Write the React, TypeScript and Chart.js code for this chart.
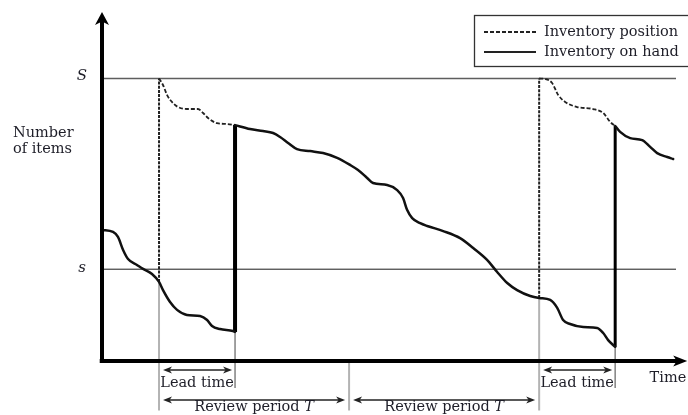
import React, { useEffect, useRef } from "react";
import { Chart, registerables } from "chart.js";

Chart.register(...registerables);

// ---------------- data ----------------
const reviewTimes = [3, 13, 23];
const arrivalTimes = [7, 27];
const levelS = 100; // order-up-to level S
const levelSmall = 32.5; // reorder point s

// inventory on hand, piecewise between order arrivals: [time, items]
const onHand1: [number, number][] = [
  [0, 46.4], [0.58, 45.7], [0.84, 43.9], [1.11, 39.3], [1.37, 36.1], [1.84, 34.0],
  [2.16, 32.6], [2.63, 30.8], [3, 28.0], [3.21, 25.1], [3.58, 20.9], [3.95, 18.1],
  [4.47, 16.3], [5.16, 15.9], [5.53, 14.5], [5.79, 12.4], [6.21, 11.3], [6.89, 10.6], [7, 10.3],
];
const onHand2: [number, number][] = [
  [7, 83.5], [7.79, 82.1], [8.47, 81.4], [9.0, 80.7], [9.37, 79.3], [9.79, 77.2],
  [10.26, 75.0], [10.95, 74.3], [11.63, 73.6], [12.37, 71.9], [13.05, 69.4], [13.47, 67.6],
  [13.95, 64.8], [14.26, 63.0], [15.0, 62.3], [15.53, 60.5], [15.84, 57.7], [16.05, 53.5],
  [16.32, 50.6], [16.74, 48.8], [17.11, 47.8], [17.95, 46.0], [18.84, 43.5], [19.53, 40.0],
  [20.26, 35.8], [20.79, 31.5], [21.32, 27.6], [21.84, 25.1], [22.53, 23.0], [23, 22.3],
  [23.58, 21.6], [23.95, 18.8], [24.26, 14.5], [24.63, 13.1], [25.32, 12.0], [26.05, 11.7],
  [26.37, 9.9], [26.63, 7.4], [27, 5.0],
];
const onHand3: [number, number][] = [
  [27, 83.2], [27.26, 81.1], [27.79, 78.9], [28.42, 78.2], [28.84, 75.8], [29.21, 73.6],
  [29.74, 72.2], [30.05, 71.5],
];
// inventory position while an order is outstanding
const position1: [number, number][] = [
  [3, 100], [3.21, 97.7], [3.42, 94.2], [3.68, 91.7], [4.0, 89.9], [4.47, 89.2],
  [5.05, 89.2], [5.32, 87.8], [5.58, 86.0], [6.05, 84.2], [6.58, 83.9], [7, 83.5],
];
const position2: [number, number][] = [
  [23, 100], [23.32, 99.8], [23.68, 98.4], [24.0, 94.2], [24.37, 91.7], [25.0, 89.9],
  [25.84, 89.2], [26.37, 87.8], [26.74, 84.6], [27, 83.2],
];

const legendLabels = ["Inventory position", "Inventory on hand"];
const levelLabels = ["S", "s"];
const yTitleLines = ["Number", "of items"];
const xTitle = "Time";
const leadLabel = "Lead time";
const reviewLabel = "Review period ";
const reviewSymbol = "T";

// ---------------- layout / style ----------------
const X_MAX = 30.2;
const Y_MAX = 120;
const X_AXIS_END = 30.5;
const X_TIP = 30.79;
const Y_AXIS_END = 121;
const Y_TIP = 123.5;
const REVIEW_MARK_BOTTOM = -17.5;
const ARRIVAL_MARK_BOTTOM = -9.6;
const FONT = "'DejaVu Serif', 'Liberation Serif', serif";
const TEXT = "#1e1e28";

type P = { x: number; y: number };
const pts = (a: [number, number][]): P[] => a.map(([x, y]) => ({ x, y }));
const segmentsOnHand = [onHand1, onHand2, onHand3];
const segmentsPosition = [position1, position2];

function onHandAt(t: number): number {
  let best = segmentsOnHand[0][0];
  let bd = Infinity;
  for (const seg of segmentsOnHand) {
    for (const p of seg) {
      const d = Math.abs(p[0] - t);
      if (d < bd - 1e-9) {
        bd = d;
        best = p;
      }
    }
  }
  return best[1];
}

function buildDatasets() {
  const base = { pointRadius: 0, clip: false as const, fill: false, tension: 0 };
  const ds: any[] = [];
  // axes
  ds.push({ ...base, data: [{ x: 0, y: -0.7 }, { x: 0, y: Y_AXIS_END }], borderColor: "#000", borderWidth: 4 });
  ds.push({ ...base, data: [{ x: -0.12, y: 0 }, { x: X_AXIS_END, y: 0 }], borderColor: "#000", borderWidth: 4 });
  // on hand
  segmentsOnHand.forEach((seg) =>
    ds.push({
      ...base,
      label: legendLabels[1],
      data: pts(seg),
      borderColor: "#111",
      borderWidth: 2.5,
      cubicInterpolationMode: "monotone",
      borderCapStyle: "round",
      borderJoinStyle: "round",
    })
  );
  // order arrivals (on hand jumps)
  arrivalTimes.forEach((t, i) => {
    const low = segmentsOnHand[i][segmentsOnHand[i].length - 1][1];
    const high = segmentsOnHand[i + 1][0][1];
    ds.push({ ...base, data: [{ x: t, y: low }, { x: t, y: high }], borderColor: "#000", borderWidth: i === 0 ? 4 : 3 });
  });
  // inventory position
  segmentsPosition.forEach((seg) =>
    ds.push({
      ...base,
      label: legendLabels[0],
      data: pts(seg),
      borderColor: "#222",
      borderWidth: 1.8,
      borderDash: [4, 2],
      cubicInterpolationMode: "monotone",
    })
  );
  // review jumps (orders placed)
  reviewTimes.forEach((t) => {
    const v = onHandAt(t);
    if (v <= levelSmall) {
      ds.push({ ...base, data: [{ x: t, y: v }, { x: t, y: levelS }], borderColor: "#222", borderWidth: 2, borderDash: [3, 1.2] });
    }
  });
  // S and s levels
  ds.push({ ...base, data: [{ x: 0, y: levelS }, { x: X_MAX, y: levelS }], borderColor: "#5e5e5e", borderWidth: 1.5 });
  ds.push({ ...base, data: [{ x: 0, y: levelSmall }, { x: X_MAX, y: levelSmall }], borderColor: "#1a1a1a", borderWidth: 1 });
  // gray markers under the time axis
  reviewTimes.forEach((t) => {
    const v = onHandAt(t);
    const top = v <= levelSmall ? v : 0;
    ds.push({ ...base, data: [{ x: t, y: top }, { x: t, y: REVIEW_MARK_BOTTOM }], borderColor: "#b3b3b3", borderWidth: 2 });
  });
  arrivalTimes.forEach((t, i) => {
    const low = segmentsOnHand[i][segmentsOnHand[i].length - 1][1];
    ds.push({ ...base, data: [{ x: t, y: low }, { x: t, y: ARRIVAL_MARK_BOTTOM }], borderColor: "#8a8a8a", borderWidth: 1.6 });
  });
  return ds;
}

function head(ctx: CanvasRenderingContext2D, tx: number, ty: number, dx: number, dy: number, len: number, half: number, notch: number) {
  const bx = tx - dx * len, by = ty - dy * len;
  const nx = tx - dx * (len - notch), ny = ty - dy * (len - notch);
  const qx = -dy, qy = dx;
  ctx.beginPath();
  ctx.moveTo(tx, ty);
  ctx.lineTo(bx + qx * half, by + qy * half);
  ctx.lineTo(nx, ny);
  ctx.lineTo(bx - qx * half, by - qy * half);
  ctx.closePath();
  ctx.fill();
}

function dblArrow(ctx: CanvasRenderingContext2D, x1: number, x2: number, y: number) {
  ctx.beginPath();
  ctx.moveTo(x1 + 4, y);
  ctx.lineTo(x2 - 4, y);
  ctx.stroke();
  head(ctx, x1, y, -1, 0, 9, 3.6, 2.5);
  head(ctx, x2, y, 1, 0, 9, 3.6, 2.5);
}

const annotate = {
  id: "annotate",
  afterDatasetsDraw(chart: any) {
    const { ctx } = chart;
    const xs = chart.scales.x, ys = chart.scales.y;
    const px = (v: number) => xs.getPixelForValue(v);
    const py = (v: number) => ys.getPixelForValue(v);
    const axisY = py(0);
    ctx.save();
    ctx.fillStyle = "#000";
    // axis arrowheads
    head(ctx, px(0), py(Y_TIP), 0, -1, 13, 7, 3.5);
    head(ctx, px(X_TIP), axisY, 1, 0, 14, 5.5, 3.5);

    // double arrows
    ctx.strokeStyle = "#222";
    ctx.fillStyle = "#222";
    ctx.lineWidth = 1.4;
    const ordered = reviewTimes.filter((t) => onHandAt(t) <= levelSmall);
    ordered.forEach((t, i) => {
      const a = arrivalTimes[i];
      dblArrow(ctx, px(t) + 4, px(a) - 3, axisY + 9);
    });
    for (let i = 0; i < reviewTimes.length - 1; i++) {
      dblArrow(ctx, px(reviewTimes[i]) + 4, px(reviewTimes[i + 1]) - 4, axisY + 39);
    }

    // texts
    ctx.fillStyle = TEXT;
    ctx.textBaseline = "alphabetic";
    ctx.font = `14.5px ${FONT}`;
    ctx.textAlign = "center";
    ordered.forEach((t, i) => {
      const a = arrivalTimes[i];
      ctx.fillText(leadLabel, (px(t) + px(a)) / 2, axisY + 26);
    });
    for (let i = 0; i < reviewTimes.length - 1; i++) {
      const cx = (px(reviewTimes[i]) + px(reviewTimes[i + 1])) / 2;
      ctx.font = `14.5px ${FONT}`;
      const w1 = ctx.measureText(reviewLabel).width;
      ctx.font = `italic 14.5px ${FONT}`;
      const w2 = ctx.measureText(reviewSymbol).width;
      const left = cx - (w1 + w2) / 2;
      ctx.textAlign = "left";
      ctx.font = `14.5px ${FONT}`;
      ctx.fillText(reviewLabel, left, axisY + 50);
      ctx.font = `italic 14.5px ${FONT}`;
      ctx.fillText(reviewSymbol, left + w1, axisY + 50);
    }
    ctx.textAlign = "right";
    ctx.font = `14.5px ${FONT}`;
    ctx.fillText(xTitle, px(X_TIP) - 1, axisY + 21);

    ctx.textAlign = "left";
    ctx.fillText(yTitleLines[0], 13, 137);
    ctx.fillText(yTitleLines[1], 13, 153);

    ctx.textAlign = "center";
    ctx.textBaseline = "middle";
    ctx.font = `italic 15px ${FONT}`;
    ctx.fillText(levelLabels[0], px(0) - 20, py(levelS) - 2);
    ctx.fillText(levelLabels[1], px(0) - 20, py(levelSmall) - 1);

    // legend
    ctx.strokeStyle = "#333";
    ctx.lineWidth = 1.3;
    ctx.strokeRect(474.5, 15.5, 240, 51);
    ctx.lineWidth = 1.8;
    ctx.strokeStyle = "#222";
    ctx.setLineDash([4, 2]);
    ctx.beginPath();
    ctx.moveTo(484, 32);
    ctx.lineTo(536, 32);
    ctx.stroke();
    ctx.setLineDash([]);
    ctx.lineWidth = 2;
    ctx.beginPath();
    ctx.moveTo(484, 52);
    ctx.lineTo(536, 52);
    ctx.stroke();
    ctx.textAlign = "left";
    ctx.font = `14.5px ${FONT}`;
    ctx.fillText(legendLabels[0], 544, 32);
    ctx.fillText(legendLabels[1], 544, 52);
    ctx.restore();
  },
};

export default function App() {
  const ref = useRef<HTMLCanvasElement>(null);
  useEffect(() => {
    document.body.style.margin = "0";
    const canvas = ref.current!;
    const chart = new Chart(canvas, {
      type: "line",
      data: { datasets: buildDatasets() },
      options: {
        responsive: false,
        animation: false,
        events: [],
        layout: { padding: { left: 102, right: 12, top: 22, bottom: 54 } },
        scales: {
          x: { type: "linear", min: 0, max: X_MAX, display: false },
          y: { type: "linear", min: 0, max: Y_MAX, display: false },
        },
        plugins: { legend: { display: false }, tooltip: { enabled: false } },
        elements: { point: { radius: 0 } },
      },
      plugins: [annotate],
    } as any);
    return () => chart.destroy();
  }, []);
  return (
    <div style={{ width: 688, height: 415, background: "#fff" }}>
      <canvas ref={ref} width={688} height={415} style={{ display: "block" }} />
    </div>
  );
}
